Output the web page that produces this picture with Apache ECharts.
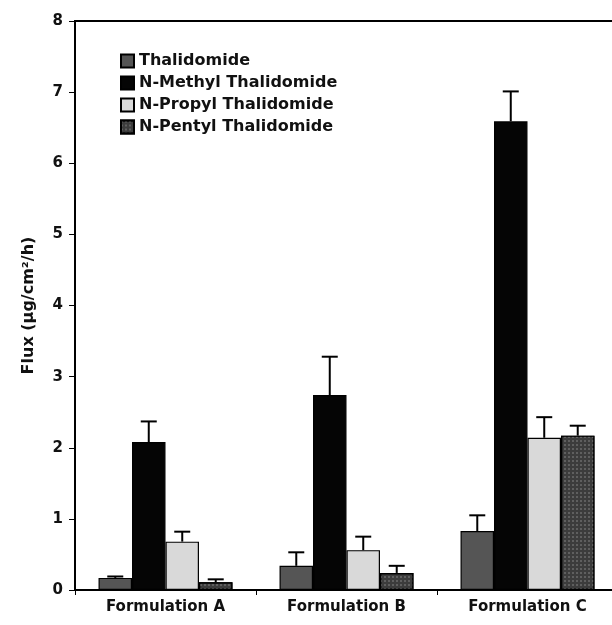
<!DOCTYPE html>
<html lang="en">
<head>
  <meta charset="UTF-8">
  <script src="https://cdn.jsdelivr.net/npm/echarts@6/dist/echarts.min.js"></script>
  <title>Flux</title>
  <style>
    html, body { margin: 0; padding: 0; background: #fff; }
    .container { width: 612px; height: 625px; }
  </style>
</head>
<body>
  <div class="container"></div>
  <script>
    const categories = ["Formulation A", "Formulation B", "Formulation C"];
    const seriesNames = ["Thalidomide", "N-Methyl Thalidomide", "N-Propyl Thalidomide", "N-Pentyl Thalidomide"];
    const thalidomide = [0.17, 0.34, 0.83];
    const nMethyl = [2.08, 2.74, 6.59];
    const nPropyl = [0.68, 0.56, 2.14];
    const nPentyl = [0.11, 0.24, 2.17];
    // upper error bar ends
    const thalidomideErr = [0.19, 0.53, 1.05];
    const nMethylErr = [2.37, 3.28, 7.01];
    const nPropylErr = [0.82, 0.75, 2.43];
    const nPentylErr = [0.15, 0.34, 2.31];
    const yTicks = [0, 1, 2, 3, 4, 5, 6, 7, 8];

    const values = [thalidomide, nMethyl, nPropyl, nPentyl];
    const errs = [thalidomideErr, nMethylErr, nPropylErr, nPentylErr];
    const colors = ["#555555", "#050505", "#d9d9d9", "#3c3c3c"];
    const gapRatio = 0.26;
    const font = "DejaVu Sans, Liberation Sans, sans-serif";

    const barSeries = seriesNames.map((name, i) => {
      const itemStyle = { color: colors[i], borderColor: "#000", borderWidth: 1.2 };
      if (i === 3) {
        itemStyle.decal = { symbol: "rect", symbolSize: 1, dashArrayX: [2, 2], dashArrayY: [2, 2], color: "rgba(110,110,110,0.7)" };
      }
      return {
        name: name,
        type: "bar",
        data: values[i],
        barGap: 0,
        barCategoryGap: "26%",
        itemStyle: itemStyle
      };
    });

    const errSeries = seriesNames.map((name, i) => ({
      type: "custom",
      name: name + " err",
      data: values[i].map((v, k) => [k, v, errs[i][k]]),
      z: 5,
      renderItem: (params, api) => {
        const band = api.size([1, 0])[0];
        const barW = band * (1 - gapRatio) / 4;
        const base = api.coord([api.value(0), api.value(1)]);
        const top = api.coord([api.value(0), api.value(2)]);
        const x = base[0] + (i - 1.5) * barW;
        const cap = 8;
        const style = { stroke: "#000", lineWidth: 2 };
        return {
          type: "group",
          children: [
            { type: "line", shape: { x1: x, y1: base[1], x2: x, y2: top[1] }, style: style },
            { type: "line", shape: { x1: x - cap, y1: top[1], x2: x + cap, y2: top[1] }, style: style }
          ]
        };
      }
    }));

    const chart = echarts.init(document.querySelector(".container"));
    chart.setOption({
      animation: false,
      textStyle: { fontFamily: font },
      grid: {
        left: 75, top: 21, width: 543, height: 569,
        outerBoundsMode: "none",
        show: true, borderColor: "#000", borderWidth: 2, backgroundColor: "transparent"
      },
      legend: {
        data: seriesNames,
        orient: "vertical",
        left: 115,
        top: 48,
        itemWidth: 13,
        itemHeight: 13,
        itemGap: 6,
        icon: "rect",
        textStyle: { fontFamily: font, fontWeight: "bold", fontSize: 16, color: "#111" }
      },
      xAxis: {
        type: "category",
        data: categories,
        axisLine: { lineStyle: { color: "#000", width: 2 } },
        axisTick: { show: true, length: 5, lineStyle: { color: "#000" } },
        axisLabel: { fontWeight: "bold", fontSize: 15, color: "#111", margin: 10 }
      },
      yAxis: {
        type: "value",
        min: yTicks[0],
        max: yTicks[yTicks.length - 1],
        interval: 1,
        name: "Flux (µg/cm²/h)",
        nameLocation: "middle",
        nameGap: 38,
        nameTextStyle: { fontWeight: "bold", fontSize: 16, color: "#111" },
        splitLine: { show: false },
        axisLine: { show: true, lineStyle: { color: "#000", width: 2 } },
        axisTick: { show: true, length: 6, lineStyle: { color: "#000" } },
        axisLabel: { fontWeight: "bold", fontSize: 15, color: "#111", margin: 12 }
      },
      series: [...barSeries, ...errSeries]
    });
  </script>
</body>
</html>
